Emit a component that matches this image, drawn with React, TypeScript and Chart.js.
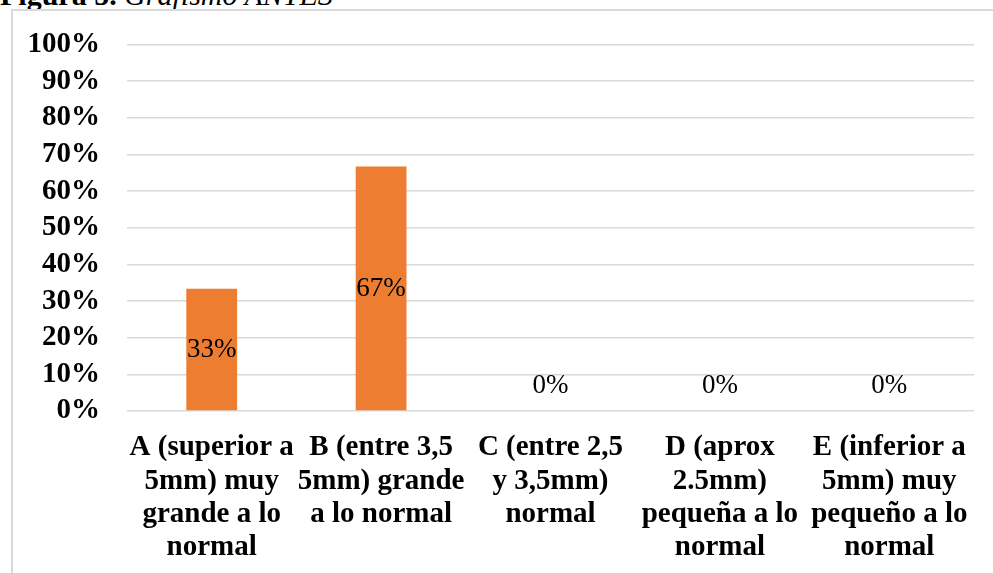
import React, { useEffect, useRef } from "react";
import { Chart, registerables } from "chart.js";

Chart.register(...registerables);

const categories: string[][] = [
  ["A (superior a", "5mm) muy", "grande a lo", "normal"],
  ["B (entre 3,5", "5mm) grande", "a lo normal"],
  ["C (entre 2,5", "y 3,5mm)", "normal"],
  ["D (aprox", "2.5mm)", "pequeña a lo", "normal"],
  ["E (inferior a", "5mm) muy", "pequeño a lo", "normal"],
];
const values: number[] = [33.33, 66.67, 0, 0, 0];
const yTicks: number[] = [0, 10, 20, 30, 40, 50, 60, 70, 80, 90, 100];

const FONT = "'Times New Roman', 'Liberation Serif', serif";

const labelPlugin = {
  id: "barLabels",
  afterDatasetsDraw(chart: any) {
    const ctx = chart.ctx;
    const meta = chart.getDatasetMeta(0);
    ctx.save();
    ctx.font = `27px ${FONT}`;
    ctx.fillStyle = "#000000";
    ctx.textAlign = "center";
    ctx.textBaseline = "middle";
    meta.data.forEach((el: any, i: number) => {
      const v = values[i];
      const txt = `${Math.round(v)}%`;
      const y = v > 0 ? (el.y + el.base) / 2 : el.base - 25;
      ctx.fillText(txt, el.x, y);
    });
    ctx.restore();
  },
};

export default function App() {
  const ref = useRef<HTMLCanvasElement | null>(null);
  useEffect(() => {
    if (!ref.current) return;
    const chart = new Chart(ref.current, {
      type: "bar",
      data: {
        labels: categories,
        datasets: [
          {
            data: values,
            backgroundColor: "#ED7D31",
            categoryPercentage: 1,
            barPercentage: 0.3,
          },
        ],
      },
      options: {
        animation: false,
        responsive: false,
        maintainAspectRatio: false,
        layout: { padding: { top: 39, right: 19, left: 0, bottom: 0 } },
        plugins: {
          legend: { display: false },
          tooltip: { enabled: false },
          title: { display: false },
        },
        scales: {
          x: {
            grid: { display: false },
            border: { display: false },
            ticks: {
              color: "#000000",
              font: { family: FONT, size: 29, weight: "bold", lineHeight: 1.15 },
              padding: 12,
              maxRotation: 0,
              minRotation: 0,
              autoSkip: false,
            },
            afterFit(scale: any) {
              scale.height = 162;
            },
          },
          y: {
            min: 0,
            max: 100,
            afterBuildTicks(scale: any) {
              scale.ticks = yTicks.map((v) => ({ value: v }));
            },
            grid: { color: "#d9d9d9", lineWidth: 1.5, drawTicks: false },
            border: { display: false },
            ticks: {
              color: "#000000",
              font: { family: FONT, size: 29, weight: "bold" },
              padding: 27,
              autoSkip: false,
              callback: (v: any) => `${v}%`,
            },
            afterFit(scale: any) {
              scale.width = 127;
            },
          },
        },
      },
      plugins: [labelPlugin],
    });
    return () => chart.destroy();
  }, []);

  return (
    <div style={{ position: "fixed", left: 0, top: 0, width: 993, height: 573, overflow: "hidden", background: "#ffffff" }}>
      <div
        style={{
          position: "absolute",
          left: 0,
          top: -20,
          fontFamily: FONT,
          fontSize: 30,
          lineHeight: 1,
          whiteSpace: "nowrap",
          color: "#000000",
        }}
      >
        <b>Figura 5.</b> <i>Grafismo ANTES</i>
      </div>
      <div
        style={{
          position: "absolute",
          left: 11,
          top: 9,
          width: 1000,
          height: 600,
          borderTop: "2px solid #d9d9d9",
          borderLeft: "2px solid #d9d9d9",
          boxSizing: "border-box",
        }}
      />
      <canvas ref={ref} width={993} height={573} style={{ position: "absolute", left: 0, top: 0, width: 993, height: 573 }} />
    </div>
  );
}
